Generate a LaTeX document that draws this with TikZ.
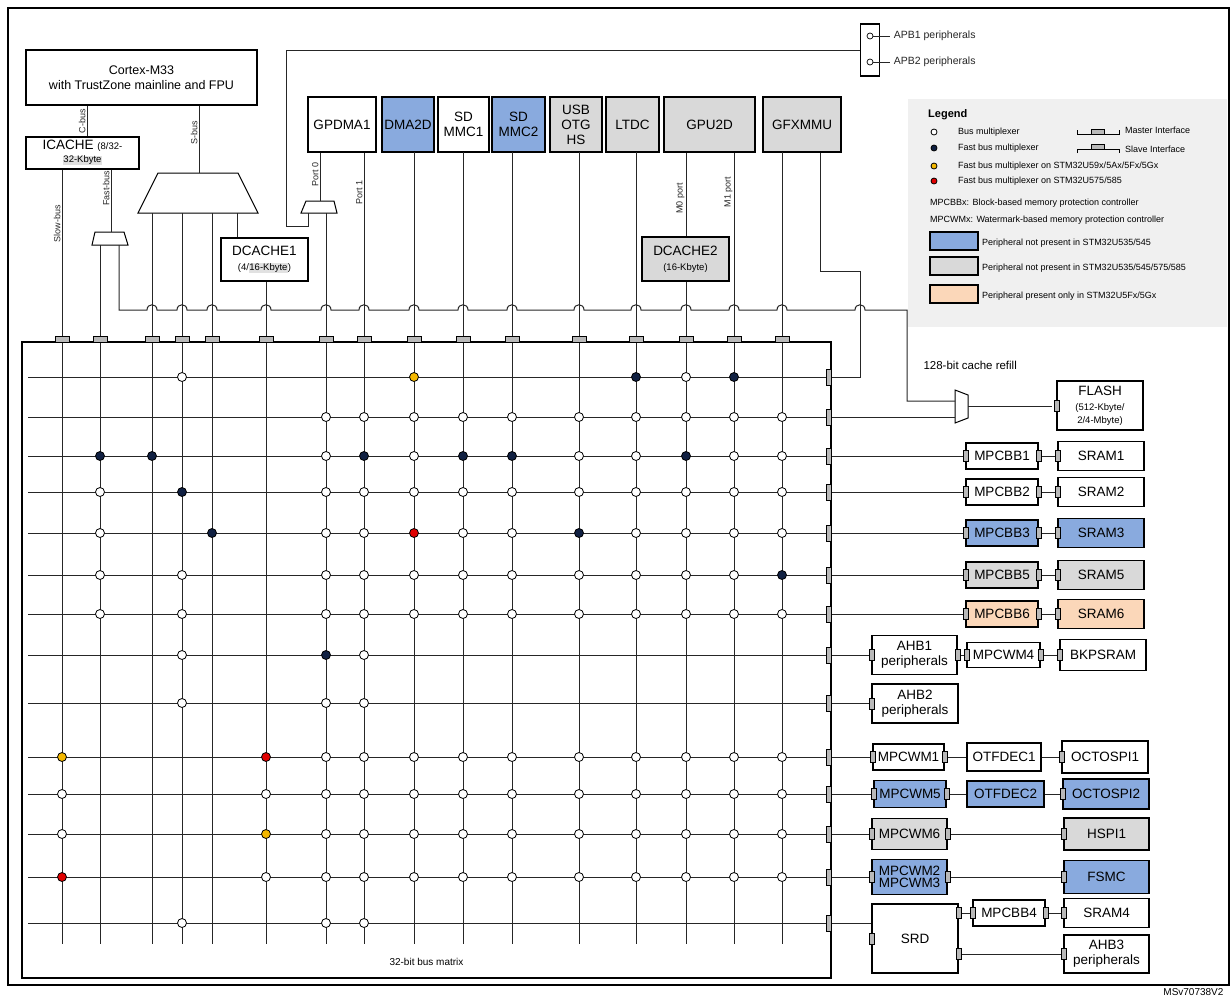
\documentclass[tikz,border=0pt]{standalone}
\usepackage{fontspec}
\setmainfont{Liberation Sans}
\definecolor{pblue}{RGB}{137,170,222}
\definecolor{pgray}{RGB}{217,217,217}
\definecolor{ppeach}{RGB}{251,215,185}
\definecolor{navy}{RGB}{16,32,66}
\definecolor{myellow}{RGB}{244,184,0}
\definecolor{mred}{RGB}{224,0,0}
\definecolor{hl}{RGB}{225,225,225}
\newcommand{\hlt}[1]{{\setlength{\fboxsep}{0.5pt}\colorbox{hl}{#1}}}
\tikzset{
  box/.style={draw,line width=1.3pt,fill=white,inner sep=0pt,align=center,font=\fontsize{13.5}{15}\selectfont},
  bus/.style={line width=1pt,black!85},
  dw/.style={circle,draw,line width=0.8pt,fill=white,minimum size=9pt,inner sep=0pt},
  dn/.style={dw,fill=navy},
  dy/.style={dw,fill=myellow},
  dr/.style={dw,fill=mred},
  mport/.style={draw,line width=0.6pt,fill=gray!55,minimum width=14pt,minimum height=6pt,inner sep=0pt},
  sport/.style={draw,line width=0.6pt,fill=gray!55,minimum width=5pt,minimum height=11pt,inner sep=0pt},
  lbl/.style={font=\fontsize{9}{10}\selectfont,inner sep=1pt},
  leg/.style={font=\fontsize{9}{10}\selectfont,anchor=west,inner sep=0pt}
}
\begin{document}
\begin{tikzpicture}[x={(1pt,0pt)},y={(0pt,-1pt)}]
\useasboundingbox (0,0) rectangle (1232,999);
\draw[line width=1.5pt] (8,8) rectangle (1229,985);

% legend background
\fill[black!6] (908,99) rectangle (1227,327);

% masters
\node (cortex) at (141.5,77.5) [box,minimum width=231pt,minimum height=55pt,font=\fontsize{12.5}{15}\selectfont] {Cortex-M33\\with TrustZone mainline and FPU};
\node (icache) at (82.5,153) [box,minimum width=113pt,minimum height=32pt] {ICACHE {\fontsize{9.5}{10}\selectfont(8/32-}\\[-2pt]{\fontsize{9.5}{10}\selectfont\hlt{32-Kbyte}}};
\node (dcache1) at (264.5,259.5) [box,minimum width=87pt,minimum height=43pt] {DCACHE1\\{\fontsize{9.5}{10}\selectfont(4/\hlt{16-Kbyte})}};
\node (gpdma) at (342,124.5) [box,minimum width=68pt,minimum height=55pt] {GPDMA1};
\node (dma2d) at (408,124.5) [box,fill=pblue,minimum width=52pt,minimum height=55pt] {DMA2D};
\node (sdmmc1) at (463.5,124.5) [box,minimum width=51pt,minimum height=55pt] {SD\\MMC1};
\node (sdmmc2) at (518.5,124.5) [box,fill=pblue,minimum width=53pt,minimum height=55pt] {SD\\MMC2};
\node (usb) at (576,124.5) [box,fill=pgray,minimum width=52pt,minimum height=55pt] {USB\\OTG\\HS};
\node (ltdc) at (632.5,124.5) [box,fill=pgray,minimum width=53pt,minimum height=55pt] {LTDC};
\node (gpu2d) at (709.5,124.5) [box,fill=pgray,minimum width=91pt,minimum height=55pt] {GPU2D};
\node (gfxmmu) at (802,124.5) [box,fill=pgray,minimum width=78pt,minimum height=55pt] {GFXMMU};
\node (dcache2) at (685.5,259) [box,fill=pgray,minimum width=87pt,minimum height=44pt] {DCACHE2\\{\fontsize{9.5}{10}\selectfont(16-Kbyte)}};
\node (apb) at (870,50) [draw,line width=1.3pt,minimum width=19pt,minimum height=52pt,inner sep=0pt] {};

% multiplexers
\draw[line width=1pt,fill=white] (92,245) -- (95,232) -- (124,232) -- (128,245) -- cycle;
\draw[line width=1pt,fill=white] (138,213) -- (158,173) -- (238,173) -- (258,213) -- cycle;
\draw[line width=1pt,fill=white] (301,213) -- (306,201) -- (334,201) -- (337,213) -- cycle;
\draw[line width=1pt,fill=white] (955,390) -- (968,395) -- (968,418) -- (955,423) -- cycle;
\coordinate (fmux) at (111,232);
\coordinate (smux) at (199,173);
\coordinate (gmux) at (320,201);
\coordinate (flmux) at (968,406);

% master buses
\draw[bus] (cortex.south -| 87,0) -- (icache.north -| 87,0) node[midway,lbl,rotate=90,anchor=south] {C-bus};
\draw[bus] (cortex.south -| smux) -- (smux) node[pos=0.4,lbl,rotate=90,anchor=south] {S-bus};
\draw[bus] (icache.south -| fmux) -- (fmux) node[pos=0.3,lbl,rotate=90,anchor=south] {Fast-bus};
\draw[bus] (gpdma.south -| gmux) -- (gmux) node[pos=0.45,lbl,rotate=90,anchor=south] {Port 0};
\draw[bus] (237,213) -- (dcache1.north -| 237,0);
\draw[bus] (gpu2d.south -| 686,0) -- (dcache2.north -| 686,0) node[pos=0.55,lbl,rotate=90,anchor=south] {M0 port};
\draw[bus] (apb.west) -- (286,50) -- (286,226) -- (308,226) -- (308,213);
\draw[bus] (gfxmmu.south -| 820,0) -- (820,271) -- (860,271) -- (860,377) -- (831,377);
\draw[bus] (119,245) -- (119,310)
  \foreach \c in {152,182,212,266,326,364,414,463,512,579,636,686,734,782,860} {
    -- (\c-5,310) .. controls (\c-5,303) and (\c+5,303) .. (\c+5,310) }
  -- (907,310) -- (907,401) -- (955,401);
\draw[bus] (flmux) -- (1052,406);
\draw[bus] (831,417) -- (955,417);

% verticals into the matrix
\draw[bus] (icache.south -| 62,0) -- (62,944) node[pos=0.07,lbl,rotate=90,anchor=south] {Slow-bus};
\draw[bus] (100,245) -- (100,944);
\foreach \c in {152,182,212} \draw[bus] (\c,213) -- (\c,944);
\draw[bus] (dcache1.south -| 266,0) -- (266,944);
\draw[bus] (326,213) -- (326,944);
\draw[bus] (gpdma.south -| 364,0) -- (364,944) node[pos=0.05,lbl,rotate=90,anchor=south] {Port 1};
\foreach \c in {414,463,512,579,636,782} \draw[bus] (\c,152) -- (\c,944);
\draw[bus] (dcache2.south -| 686,0) -- (686,944);
\draw[bus] (gpu2d.south -| 734,0) -- (734,944) node[pos=0.05,lbl,rotate=90,anchor=south] {M1 port};

% bus matrix
\node (matrix) at (426.5,962) {\fontsize{10}{11}\selectfont 32-bit bus matrix};
\draw[line width=1.3pt] (22,342) rectangle (831,978);
\foreach \r in {377,417,456,492,533,575,614,655,703,757,794,834,877,923} {
  \draw[bus] (28,\r) -- (831,\r);
  \node[sport,minimum height=16pt] (s\r) at (829,\r) {};
}
\foreach \c in {62,100,152,182,212,266,326,364,414,463,512,579,636,686,734,782}
  \node[mport] (m\c) at (\c,339) {};

% multiplexer dots
\foreach \r/\cols in {
  377/{182/dw,414/dy,636/dn,686/dw,734/dn},
  417/{326/dw,364/dw,414/dw,463/dw,512/dw,579/dw,636/dw,686/dw,734/dw,782/dw},
  456/{100/dn,152/dn,326/dw,364/dn,414/dw,463/dn,512/dn,579/dw,636/dw,686/dn,734/dw,782/dw},
  492/{100/dw,182/dn,326/dw,364/dw,414/dw,463/dw,512/dw,579/dw,636/dw,686/dw,734/dw,782/dw},
  533/{100/dw,212/dn,326/dw,364/dw,414/dr,463/dw,512/dw,579/dn,636/dw,686/dw,734/dw,782/dw},
  575/{100/dw,182/dw,326/dw,364/dw,414/dw,463/dw,512/dw,579/dw,636/dw,686/dw,734/dw,782/dn},
  614/{100/dw,182/dw,326/dw,364/dw,414/dw,463/dw,512/dw,579/dw,636/dw,686/dw,734/dw,782/dw},
  655/{182/dw,326/dn,364/dw},
  703/{182/dw,326/dw,364/dw},
  757/{62/dy,266/dr,326/dw,364/dw,414/dw,463/dw,512/dw,579/dw,636/dw,686/dw,734/dw,782/dw},
  794/{62/dw,266/dw,326/dw,364/dw,414/dw,463/dw,512/dw,579/dw,636/dw,686/dw,734/dw,782/dw},
  834/{62/dw,266/dy,326/dw,364/dw,414/dw,463/dw,512/dw,579/dw,636/dw,686/dw,734/dw,782/dw},
  877/{62/dr,266/dw,326/dw,364/dw,414/dw,463/dw,512/dw,579/dw,636/dw,686/dw,734/dw,782/dw},
  923/{182/dw,326/dw,364/dw}}
  \foreach \c/\t in \cols \node[\t] (d\c-\r) at (\c,\r) {};

% slaves
\node (flash) at (1100,405.5) [box,minimum width=86pt,minimum height=49pt] {FLASH\\{\fontsize{9.5}{10}\selectfont(512-Kbyte/}\\[-2pt]{\fontsize{9.5}{10}\selectfont 2/4-Mbyte)}};
\node (mpcbb1) at (1002,456) [box,minimum width=72pt,minimum height=26pt] {MPCBB1};
\node (sram1) at (1101,456) [box,minimum width=86pt,minimum height=29pt] {SRAM1};
\node (mpcbb2) at (1002,492) [box,minimum width=72pt,minimum height=26pt] {MPCBB2};
\node (sram2) at (1101,492) [box,minimum width=86pt,minimum height=29pt] {SRAM2};
\node (mpcbb3) at (1002,533) [box,fill=pblue,minimum width=72pt,minimum height=26pt] {MPCBB3};
\node (sram3) at (1101,533) [box,fill=pblue,minimum width=86pt,minimum height=29pt] {SRAM3};
\node (mpcbb5) at (1002,575) [box,fill=pgray,minimum width=72pt,minimum height=26pt] {MPCBB5};
\node (sram5) at (1101,575) [box,fill=pgray,minimum width=86pt,minimum height=29pt] {SRAM5};
\node (mpcbb6) at (1002,614) [box,fill=ppeach,minimum width=72pt,minimum height=26pt] {MPCBB6};
\node (sram6) at (1101,614) [box,fill=ppeach,minimum width=86pt,minimum height=29pt] {SRAM6};
\node (ahb1) at (914.5,655) [box,minimum width=85pt,minimum height=39pt] {AHB1\\peripherals};
\node (mpcwm4) at (1003.5,655) [box,minimum width=73pt,minimum height=25pt] {MPCWM4};
\node (bkpsram) at (1103,655) [box,minimum width=86pt,minimum height=31pt] {BKPSRAM};
\node (ahb2) at (915,703.5) [box,minimum width=86pt,minimum height=39pt] {AHB2\\peripherals};
\node (mpcwm1) at (908.5,757) [box,minimum width=71pt,minimum height=26pt] {MPCWM1};
\node (otfdec1) at (1004,757) [box,minimum width=74pt,minimum height=28pt] {OTFDEC1};
\node (octospi1) at (1105,757) [box,minimum width=86pt,minimum height=32pt] {OCTOSPI1};
\node (mpcwm5) at (910,794) [box,fill=pblue,minimum width=72pt,minimum height=27pt] {MPCWM5};
\node (otfdec2) at (1005.5,794) [box,fill=pblue,minimum width=77pt,minimum height=26pt] {OTFDEC2};
\node (octospi2) at (1106,794) [box,fill=pblue,minimum width=86pt,minimum height=30pt] {OCTOSPI2};
\node (mpcwm6) at (909.5,834) [box,fill=pgray,minimum width=75pt,minimum height=31pt] {MPCWM6};
\node (hspi1) at (1106.5,834) [box,fill=pgray,minimum width=85pt,minimum height=32pt] {HSPI1};
\node (mpcwm23) at (909.5,877) [box,fill=pblue,minimum width=75pt,minimum height=35pt] {MPCWM2\\[-3pt]MPCWM3};
\node (fsmc) at (1106.5,877) [box,fill=pblue,minimum width=85pt,minimum height=33pt] {FSMC};
\node (srd) at (915,938.5) [box,minimum width=86pt,minimum height=69pt] {SRD};
\node (mpcbb4) at (1009,913) [box,minimum width=72pt,minimum height=26pt] {MPCBB4};
\node (sram4) at (1106.5,913) [box,minimum width=85pt,minimum height=29pt] {SRAM4};
\node (ahb3) at (1106.5,954) [box,minimum width=85pt,minimum height=38pt] {AHB3\\peripherals};

% slave links
\foreach \r/\a/\b in {456/mpcbb1/sram1,492/mpcbb2/sram2,533/mpcbb3/sram3,575/mpcbb5/sram5,614/mpcbb6/sram6,
                      655/ahb1/mpcwm4,757/mpcwm1/otfdec1,794/mpcwm5/otfdec2} {
  \draw[bus] (s\r) -- (s\r -| \a.west);
  \draw[bus] (\a.east) -- (\b.west);
}
\draw[bus] (s703) -- (s703 -| ahb2.west);
\draw[bus] (s834) -- (s834 -| mpcwm6.west);
\draw[bus] (s877) -- (s877 -| mpcwm23.west);
\draw[bus] (s923) -- (s923 -| srd.west);
\draw[bus] (mpcwm4.east) -- (bkpsram.west);
\draw[bus] (otfdec1.east) -- (octospi1.west);
\draw[bus] (otfdec2.east) -- (octospi2.west);
\draw[bus] (mpcwm6.east) -- (hspi1.west);
\draw[bus] (mpcwm23.east) -- (fsmc.west);
\draw[bus] (srd.east |- mpcbb4) -- (mpcbb4.west);
\draw[bus] (mpcbb4.east) -- (sram4.west);
\draw[bus] (srd.east |- ahb3) -- (ahb3.west);
\foreach \b in {flash,mpcbb1,sram1,mpcbb2,sram2,mpcbb3,sram3,mpcbb5,sram5,mpcbb6,sram6,ahb1,mpcwm4,bkpsram,ahb2,
                mpcwm1,octospi1,mpcwm5,octospi2,mpcwm6,hspi1,mpcwm23,fsmc,srd,mpcbb4,sram4,ahb3}
  \node[sport] (pw-\b) at (\b.west) {};
\foreach \b in {mpcbb1,mpcbb2,mpcbb3,mpcbb5,mpcbb6,ahb1,mpcwm4,mpcwm1,mpcwm5,mpcwm6,mpcwm23,mpcbb4}
  \node[sport] (pe-\b) at (\b.east) {};
\node[sport] (pe-srd1) at (srd.east |- mpcbb4) {};
\node[sport] (pe-srd2) at (srd.east |- ahb3) {};

% APB
\node[circle,draw,line width=0.7pt,minimum size=6pt,inner sep=0pt] (apb1) at (870,36) {};
\node[circle,draw,line width=0.7pt,minimum size=6pt,inner sep=0pt] (apb2) at (870,62) {};
\draw[bus] (apb1) -- (890,36) node[right,font=\fontsize{10.5}{12}\selectfont] {APB1 peripherals};
\draw[bus] (apb2) -- (890,62) node[right,font=\fontsize{10.5}{12}\selectfont] {APB2 peripherals};

\node (refill) at (920,365) [anchor=west,font=\fontsize{11.5}{13}\selectfont] {128-bit cache refill};
\node (ref) at (1227,992) [anchor=east,font=\fontsize{10}{11}\selectfont] {MSv70738V2};

% legend
\node (legend) at (928,115) [leg,font=\fontsize{11}{12}\selectfont\bfseries] {Legend};
\node[dw,minimum size=6pt] (l1) at (934,132) {};
\node[dn,minimum size=6pt] (l2) at (934,148) {};
\node[dy,minimum size=6pt] (l3) at (934,166) {};
\node[dr,minimum size=6pt] (l4) at (934,181) {};
\node[leg] at (958,132) {Bus multiplexer};
\node[leg] at (958,148) {Fast bus multiplexer};
\node[leg] at (958,166) {Fast bus multiplexer on STM32U59x/5Ax/5Fx/5Gx};
\node[leg] at (958,181) {Fast bus multiplexer on STM32U575/585};
\draw[line width=0.8pt] (1077,130) -- (1077,134) -- (1119,134) -- (1119,130);
\node[mport,minimum width=13pt,minimum height=5pt] (lm) at (1098,131.5) {};
\node[leg] at (1125,130) {Master Interface};
\draw[line width=0.8pt] (1077,153) -- (1077,149) -- (1119,149) -- (1119,153);
\node[mport,minimum width=13pt,minimum height=5pt] (ls) at (1098,146.5) {};
\node[leg] at (1125,149) {Slave Interface};
\node[leg] at (930,203) {MPCBBx: Block-based memory protection controller};
\node[leg] at (930,220) {MPCWMx: Watermark-based memory protection controller};
\node[box,fill=pblue,minimum width=48pt,minimum height=18pt] (lb) at (954,241) {};
\node[box,fill=pgray,minimum width=48pt,minimum height=18pt] (lg) at (954,266) {};
\node[box,fill=ppeach,minimum width=48pt,minimum height=18pt] (lp) at (954,294) {};
\node[leg] at (982,243) {Peripheral not present in STM32U535/545};
\node[leg] at (982,268) {Peripheral not present in STM32U535/545/575/585};
\node[leg] at (982,296) {Peripheral present only in STM32U5Fx/5Gx};
\end{tikzpicture}
\end{document}
